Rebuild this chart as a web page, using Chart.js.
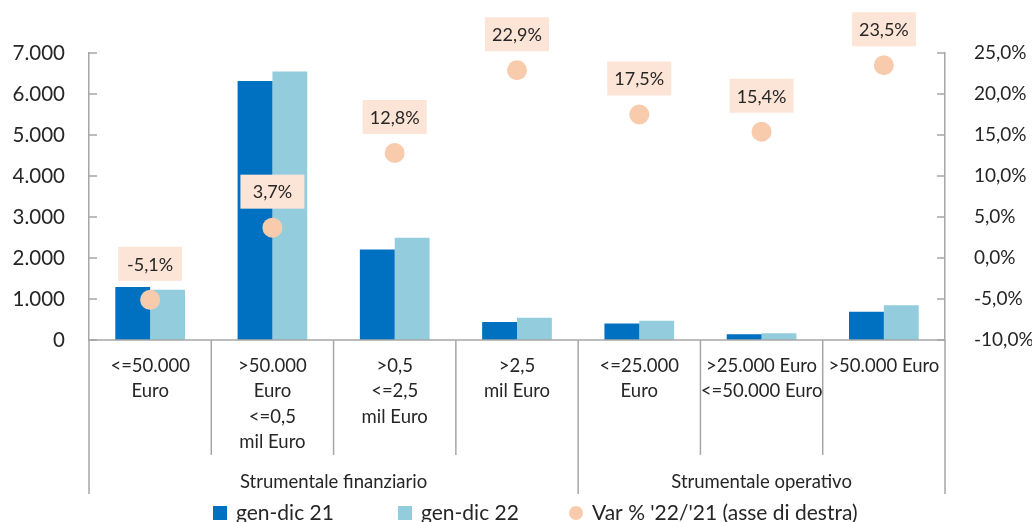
<!DOCTYPE html>
<html><head><meta charset="utf-8">
<script src="https://cdn.jsdelivr.net/npm/chart.js@4"></script>
<style>html,body{margin:0;padding:0;background:#fff}#wrap{width:1032px;height:522px}</style>
</head><body><div id="wrap"><canvas id="c" width="1032" height="522"></canvas></div>
<script>
const categories = [
  ["<=50.000","Euro"],
  [">50.000","Euro","<=0,5","mil Euro"],
  [">0,5","<=2,5","mil Euro"],
  [">2,5","mil Euro"],
  ["<=25.000","Euro"],
  [">25.000 Euro","<=50.000 Euro"],
  [">50.000 Euro"]
];
const groupLabels = ["Strumentale finanziario","Strumentale operativo"];
const groupSizes = [4,3];
const gen21 = [1290,6320,2210,440,400,140,690];
const gen22 = [1225,6550,2495,540,470,162,850];
const varPct = [-5.1,3.7,12.8,22.9,17.5,15.4,23.5];
const seriesNames = ["gen-dic 21","gen-dic 22","Var % '22/'21 (asse di destra)"];
const leftTicks = [0,1000,2000,3000,4000,5000,6000,7000];
const rightTicks = [-10,-5,0,5,10,15,20,25];

const FONT = 'Lato, sans-serif';
const TXT = '#262626';
const AXIS = '#a6a6a6';
const C21 = '#0070C0', C22 = '#93CDDD', CPT = '#F8CBAD', CBOX = '#FCE4D6';

function fmtThousands(v){ return String(v).replace(/\B(?=(\d{3})+(?!\d))/g,'.'); }
function fmtPct(v){ return v.toFixed(1).replace('.',',') + '%'; }

const decor = {
  id:'decor',
  afterDatasetsDraw(chart){
    const ctx = chart.ctx;
    const meta = chart.getDatasetMeta(2);
    ctx.save();
    ctx.font = '18px ' + FONT;
    ctx.textAlign = 'center'; ctx.textBaseline = 'middle';
    meta.data.forEach((pt,i)=>{
      const cx = pt.x, cy = pt.y - 36;
      ctx.fillStyle = CBOX;
      ctx.fillRect(cx-32, cy-17, 64, 34);
      ctx.fillStyle = TXT;
      ctx.fillText(fmtPct(varPct[i]), cx, cy+1);
    });
    ctx.restore();
  },
  afterDraw(chart){
    const ctx = chart.ctx;
    const xs = chart.scales.x, ys = chart.scales.y, y1 = chart.scales.y1;
    const ca = chart.chartArea;
    const n = categories.length;
    const half = (xs.getPixelForValue(1) - xs.getPixelForValue(0))/2;
    const bnd = [];
    for(let i=0;i<n;i++) bnd.push(xs.getPixelForValue(i)-half);
    bnd.push(xs.getPixelForValue(n-1)+half);
    const groupB = new Set([0]); let acc=0;
    groupSizes.forEach(s=>{acc+=s; groupB.add(acc);});
    ctx.save();
    ctx.strokeStyle = AXIS; ctx.lineWidth = 1.5;
    ctx.beginPath(); ctx.moveTo(ca.left, ca.bottom); ctx.lineTo(ca.right, ca.bottom); ctx.stroke();
    bnd.forEach((x,i)=>{
      ctx.beginPath(); ctx.moveTo(x, ca.bottom);
      ctx.lineTo(x, ca.bottom + (groupB.has(i)?154:115)); ctx.stroke();
    });
    ys.ticks.forEach(t=>{ const y=ys.getPixelForValue(t.value); ctx.beginPath(); ctx.moveTo(ca.left,y); ctx.lineTo(ca.left+8,y); ctx.stroke(); });
    y1.ticks.forEach(t=>{ const y=y1.getPixelForValue(t.value); ctx.beginPath(); ctx.moveTo(ca.right,y); ctx.lineTo(ca.right-8,y); ctx.stroke(); });
    ctx.fillStyle = TXT; ctx.font = '18.5px ' + FONT;
    ctx.textAlign='center'; ctx.textBaseline='middle';
    categories.forEach((lines,i)=>{
      const cx = xs.getPixelForValue(i);
      lines.forEach((ln,k)=> ctx.fillText(ln, cx, ca.bottom + 26 + k*25.3));
    });
    let start=0;
    groupSizes.forEach((s,g)=>{
      const x0 = bnd[start], x1 = bnd[start+s];
      ctx.fillText(groupLabels[g], (x0+x1)/2, ca.bottom + 142);
      start+=s;
    });
    ctx.font = '21px ' + FONT; ctx.textAlign='left';
    const ly = 513;
    const starts = [213, 398, 569];
    const colors = [C21, C22, CPT];
    starts.forEach((x,i)=>{
      ctx.fillStyle = colors[i];
      if(i<2){ ctx.fillRect(x, ly-7, 14, 14); }
      else { ctx.beginPath(); ctx.arc(x+7, ly, 7, 0, Math.PI*2); ctx.fill(); }
      ctx.fillStyle = TXT;
      ctx.fillText(seriesNames[i], x + 23, ly);
    });
    ctx.restore();
  }
};

new Chart(document.getElementById('c'), {
  data:{
    labels: categories,
    datasets:[
      {type:'bar', label:seriesNames[0], data:gen21, backgroundColor:C21, yAxisID:'y', order:2, categoryPercentage:0.57, barPercentage:1, borderWidth:0},
      {type:'bar', label:seriesNames[1], data:gen22, backgroundColor:C22, yAxisID:'y', order:2, categoryPercentage:0.57, barPercentage:1, borderWidth:0},
      {type:'line', label:seriesNames[2], data:varPct, yAxisID:'y1', order:0, showLine:false, pointRadius:10, pointBackgroundColor:CPT, pointBorderWidth:0, pointHoverRadius:10}
    ]
  },
  options:{
    responsive:false, animation:false, events:[],
    layout:{padding:{top:53,bottom:182,left:0,right:0}},
    plugins:{legend:{display:false}, tooltip:{enabled:false}},
    scales:{
      x:{display:false, offset:true},
      y:{position:'left', min:0, max:7000, afterFit:s=>{s.width=89;},
         afterBuildTicks:s=>{s.ticks=leftTicks.map(v=>({value:v}));},
         grid:{display:false}, border:{display:true,color:AXIS,width:1.5},
         ticks:{padding:16, color:TXT, font:{family:FONT,size:20.5}, callback:v=>fmtThousands(v)}},
      y1:{position:'right', min:-10, max:25, afterFit:s=>{s.width=87;},
         afterBuildTicks:s=>{s.ticks=rightTicks.map(v=>({value:v}));},
         grid:{display:false}, border:{display:true,color:AXIS,width:1.5},
         ticks:{padding:21, color:TXT, font:{family:FONT,size:19}, callback:v=>fmtPct(v)}}
    }
  },
  plugins:[decor]
});
</script></body></html>
